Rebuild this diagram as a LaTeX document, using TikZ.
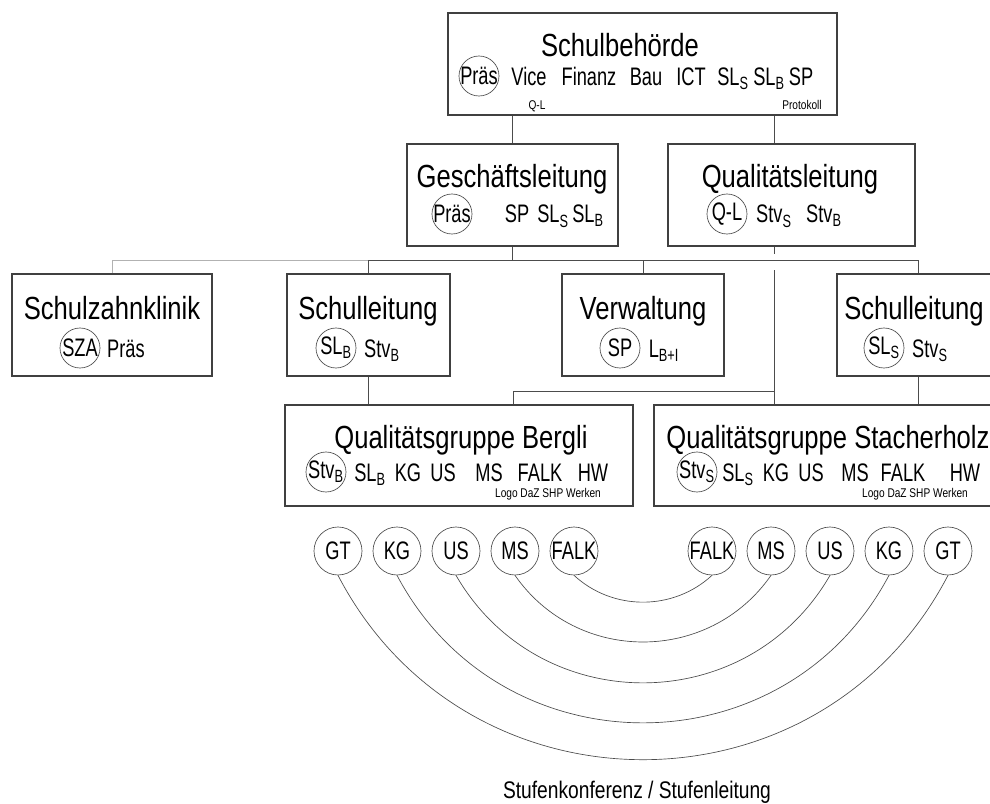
\documentclass[tikz,border=0pt]{standalone}
\usepackage{fontspec}
\setmainfont{Liberation Sans}[FakeStretch=0.8]
\newfontfamily\narrowfont{Liberation Sans}[FakeStretch=0.72]
\usetikzlibrary{fit}

\begin{document}
\begin{tikzpicture}[x=0.75pt,y=0.75pt,semithick]
  \tikzstyle{box}=[draw=black!75,line width=0.9pt,inner sep=0pt]
  \tikzstyle{title}=[anchor=base,inner sep=0pt,font=\fontsize{24}{28}\selectfont]
  \tikzstyle{item}=[anchor=base,inner sep=0pt,font=\narrowfont\fontsize{19}{22}\selectfont]
  \tikzstyle{tiny}=[anchor=base,inner sep=0pt,font=\fontsize{9.5}{11}\selectfont]
  \tikzstyle{role}=[circle,draw=black!70,line width=0.5pt,minimum size=30pt,inner sep=-3pt,font=\narrowfont\fontsize{19}{22}\selectfont]
  \tikzstyle{level}=[circle,draw=black!70,line width=0.5pt,minimum size=36pt,inner sep=-3pt,font=\narrowfont\fontsize{19}{22}\selectfont]
  \tikzstyle{link}=[draw=black!70,line width=0.7pt]

  \useasboundingbox (0,0) rectangle (990,-804);
  \clip (0,0) rectangle (990,-804);

  % boxes
  \node[box,fit={(448,-13) (837,-115)}] (SB) {};
  \node[box,fit={(407,-144) (618,-246)}] (GL) {};
  \node[box,fit={(668,-144) (915,-246)}] (QL) {};
  \node[box,fit={(12,-274) (212,-376)}] (SZK) {};
  \node[box,fit={(287,-274) (450,-376)}] (SLB) {};
  \node[box,fit={(562,-274) (724,-376)}] (VW) {};
  \node[box,fit={(837,-274) (999,-376)}] (SLS) {};
  \node[box,fit={(285,-405) (633,-506)}] (QGB) {};
  \node[box,fit={(654,-405) (999,-506)}] (QGS) {};

  % Schulbehoerde
  \node[title] (SBt) at (620,-56.5) {Schulbehörde};
  \node[role] (SBc) at (479,-76) {Präs};
  \foreach \t/\x [count=\i] in {Vice/529,Finanz/589,Bau/646,ICT/691,SL\textsubscript{S}/733,SL\textsubscript{B}/769,SP/801}
    \node[item] (SB\i) at (\x,-85) {\t};
  \node[tiny] (SBq) at (537,-109) {Q-L};
  \node[tiny] (SBpr) at (802,-109) {Protokoll};

  % Geschaeftsleitung, Qualitaetsleitung
  \node[title] (GLt) at (512,-187.5) {Geschäftsleitung};
  \node[role] (GLc) at (452,-214) {Präs};
  \foreach \t/\x [count=\i] in {SP/517,SL\textsubscript{S}/553,SL\textsubscript{B}/588}
    \node[item] (GL\i) at (\x,-222.6) {\t};
  \node[title] (QLt) at (790,-187.5) {Qualitätsleitung};
  \node[role] (QLc) at (727,-214) {Q-L};
  \foreach \t/\x [count=\i] in {Stv\textsubscript{S}/774,Stv\textsubscript{B}/824}
    \node[item] (QL\i) at (\x,-222.6) {\t};

  % third row
  \node[title] (SZKt) at (112,-319.5) {Schulzahnklinik};
  \node[role] (SZKc) at (80,-348) {SZA};
  \node[item] (SZK1) at (126,-357) {Präs};
  \node[title] (SLBt) at (368,-319.5) {Schulleitung};
  \node[role] (SLBc) at (336,-348) {SL\textsubscript{B}};
  \node[item] (SLB1) at (382,-357) {Stv\textsubscript{B}};
  \node[title] (VWt) at (643,-319.5) {Verwaltung};
  \node[role] (VWc) at (620,-348) {SP};
  \node[item] (VW1) at (664,-357) {L\textsubscript{B+I}};
  \node[title] (SLSt) at (914,-319.5) {Schulleitung};
  \node[role] (SLSc) at (884,-348) {SL\textsubscript{S}};
  \node[item] (SLS1) at (930,-357) {Stv\textsubscript{S}};

  % Qualitaetsgruppen
  \node[title] (QGBt) at (461,-448.5) {Qualitätsgruppe Bergli};
  \node[role] (QGBc) at (326,-472) {Stv\textsubscript{B}};
  \foreach \t/\x [count=\i] in {SL\textsubscript{B}/370,KG/408,US/443,MS/489,FALK/540,HW/593}
    \node[item] (QGB\i) at (\x,-481) {\t};
  \node[tiny] (QGBs) at (548,-497.6) {Logo DaZ SHP Werken};
  \node[title] (QGSt) at (828,-448.5) {Qualitätsgruppe Stacherholz};
  \node[role] (QGSc) at (697,-472) {Stv\textsubscript{S}};
  \foreach \t/\x [count=\i] in {SL\textsubscript{S}/738,KG/776,US/811,MS/855,FALK/903,HW/965}
    \node[item] (QGS\i) at (\x,-481) {\t};
  \node[tiny] (QGSs) at (915,-497.6) {Logo DaZ SHP Werken};

  % Stufen
  \foreach \t/\x [count=\i] in {GT/338,KG/397,US/456,MS/515,FALK/574}
    \node[level] (L\i) at (\x,-551) {\t};
  \foreach \t/\x [count=\i] in {GT/948,KG/889,US/830,MS/771,FALK/712}
    \node[level] (R\i) at (\x,-551) {\t};
  \node[anchor=base,inner sep=0pt,font=\fontsize{18}{21}\selectfont] (SK) at (637,-798) {Stufenkonferenz / Stufenleitung};

  \coordinate (bus) at (0,-260);
  \coordinate (qlx) at (774,-270);
  \coordinate (qgb) at (513,-391);

  \draw[link] (SB.south -| GL.north) -- (GL.north);
  \draw[link] (SB.south -| qlx) -- (QL.north -| qlx);
  \draw[link] (GL.south) -- (GL.south |- bus);
  \draw[link,black!30] (SZK.north) |- (SLB.north |- bus);
  \draw[link] (SLB.north |- bus) -- (SLS.north |- bus);
  \draw[link] (SLB.north |- bus) -- (SLB.north);
  \draw[link] (VW.north |- bus) -- (VW.north);
  \draw[link] (SLS.north |- bus) -- (SLS.north);
  \draw[link] (QL.south -| qlx) -- ++(0,-7);
  \draw[link] (qlx) -- (QGS.north -| qlx);
  \draw[link] (qlx |- qgb) -- (qgb) -- (qgb |- QGB.north);
  \draw[link] (SLB.south) -- (SLB.south |- QGB.north);
  \draw[link] (SLS.south) -- (SLS.south |- QGS.north);

  \foreach \i/\a/\l in {1/62.5/1.165,2/62.1/1.16,3/60/1.135,4/55.2/1.084,5/42.7/0.98}
    \draw[link,line width=0.5pt] (L\i.south) to[out=-\a,in=-180+\a,looseness=\l] (R\i.south);
\end{tikzpicture}
\end{document}
